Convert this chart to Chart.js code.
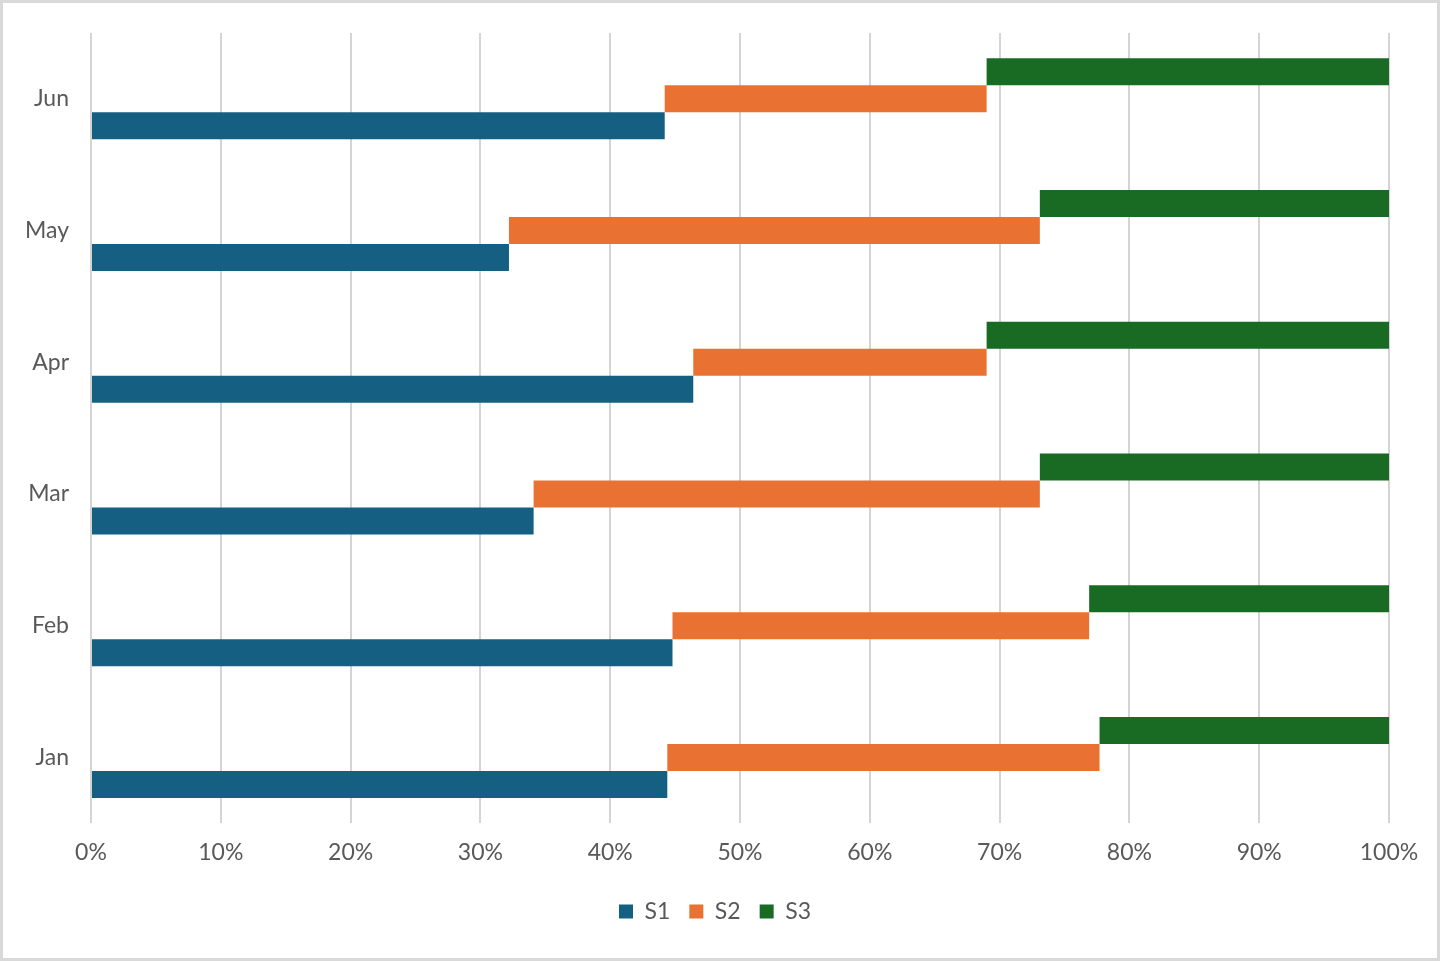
<!DOCTYPE html>
<html>
<head>
<meta charset="utf-8">
<script src="https://cdn.jsdelivr.net/npm/chart.js@4/dist/chart.umd.min.js"></script>
<style>
  html, body { margin: 0; padding: 0; background: #ffffff; }
  #wrap { position: relative; width: 1441px; height: 961px; }
  canvas { display: block; }
</style>
</head>
<body>
<div id="wrap"><canvas id="c" width="1441" height="961"></canvas></div>
<script>
// ---- data (shares in %) ----
const months = ['Jan', 'Feb', 'Mar', 'Apr', 'May', 'Jun'];
const seriesNames = ['S1', 'S2', 'S3'];
const s1 = [44.4, 44.8, 34.1, 46.4, 32.2, 44.2];
const s2 = [33.3, 32.1, 39.0, 22.6, 40.9, 24.8];
const s3 = [22.3, 23.1, 26.9, 31.0, 26.9, 31.0];
const xTicks = [0, 10, 20, 30, 40, 50, 60, 70, 80, 90, 100];

const colors = ['#156082', '#E97132', '#196B24'];
const textColor = '#595959';
const fontFamily = 'Lato, "Open Sans", sans-serif';

// floating ranges, categories top-to-bottom = Jun..Jan
const order = months.map((m, i) => i).reverse();
const labels = order.map(i => months[i]);
const r1 = order.map(i => [0, s1[i]]);
const r2 = order.map(i => [s1[i], s1[i] + s2[i]]);
const r3 = order.map(i => [s1[i] + s2[i], s1[i] + s2[i] + s3[i]]);

const borderPlugin = {
  id: 'outerBorder',
  afterDraw(chart) {
    const ctx = chart.ctx;
    ctx.save();
    ctx.strokeStyle = '#d9d9d9';
    ctx.lineWidth = 3;
    ctx.strokeRect(1.5, 1.5, chart.width - 4, chart.height - 3);
    ctx.restore();
  }
};

new Chart(document.getElementById('c'), {
  type: 'bar',
  data: {
    labels: labels,
    datasets: [
      { label: seriesNames[2], data: r3, backgroundColor: colors[2] },
      { label: seriesNames[1], data: r2, backgroundColor: colors[1] },
      { label: seriesNames[0], data: r1, backgroundColor: colors[0] }
    ]
  },
  options: {
    indexAxis: 'y',
    responsive: false,
    animation: false,
    devicePixelRatio: 1,
    categoryPercentage: 0.615,
    barPercentage: 1.0,
    layout: { padding: { top: 33, right: 11, left: 0, bottom: 28 } },
    scales: {
      x: {
        min: 0, max: 100,
        afterBuildTicks(scale) { scale.ticks = xTicks.map(v => ({ value: v })); },
        ticks: {
          color: textColor,
          font: { family: fontFamily, size: 23 },
          padding: 15,
          callback: v => v + '%'
        },
        grid: { color: '#d4d4d4', lineWidth: 2, drawTicks: false },
        border: { display: false }
      },
      y: {
        afterFit(scale) { scale.width = 91; scale.paddingTop = 0; scale.paddingBottom = 0; },
        ticks: {
          color: textColor,
          font: { family: fontFamily, size: 23 },
          padding: 22
        },
        grid: { display: false, drawTicks: false },
        border: { display: false }
      },
      yRight: {
        type: 'category',
        position: 'right',
        labels: labels,
        afterFit(scale) { scale.width = 41; scale.paddingTop = 0; scale.paddingBottom = 0; },
        ticks: { display: false },
        grid: { display: false, drawTicks: false },
        border: { display: false }
      }
    },
    plugins: {
      legend: {
        position: 'bottom',
        reverse: true,
        labels: {
          color: textColor,
          font: { family: fontFamily, size: 23 },
          boxWidth: 14,
          boxHeight: 14,
          padding: 19
        }
      },
      tooltip: { enabled: false }
    }
  },
  plugins: [borderPlugin]
});
</script>
</body>
</html>
